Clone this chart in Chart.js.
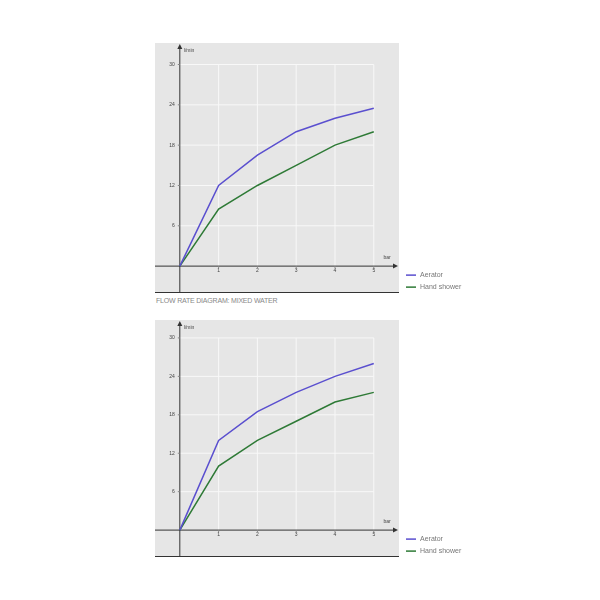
<!DOCTYPE html><html><head><script src="https://cdn.jsdelivr.net/npm/chart.js@4"></script>
<style>body{margin:0;background:#fff;font-family:"Liberation Sans",Arial,sans-serif}
.c{position:absolute;left:155px;width:330px}
#t{position:absolute;left:156px;top:297px;font-size:7px;color:#888;letter-spacing:-0.2px}</style></head><body>
<div class="c" style="top:43px;height:250px"><canvas id="a"></canvas></div>
<div id="t">FLOW RATE DIAGRAM: MIXED WATER</div>
<div class="c" style="top:320px;height:237px"><canvas id="b"></canvas></div>
<script>
const pressure=[0,1,2,3,4,5];
const xTicks=[1,2,3,4,5];
const yTicks=[6,12,18,24,30];
const seriesNames=["Aerator","Hand shower"];
const aerator1=[0,12,16.5,20,22,23.5];
const shower1=[0,8.5,12,15,18,20];
const aerator2=[0,14,18.5,21.5,24,26];
const shower2=[0,10,14,17,20,21.5];
const colors=["#5a4fcf","#2e7a36"];
const deco={id:'deco',
beforeDraw(c){const {ctx,chartArea:a,scales:{x,y}}=c;ctx.save();ctx.fillStyle='#e6e6e6';ctx.fillRect(a.left,a.top,a.width,a.height);
ctx.strokeStyle='#f8f8f8';ctx.lineWidth=1;
xTicks.forEach(v=>{const p=x.getPixelForValue(v);ctx.beginPath();ctx.moveTo(p,y.getPixelForValue(0));ctx.lineTo(p,y.getPixelForValue(30));ctx.stroke();});
yTicks.forEach(v=>{const p=y.getPixelForValue(v);ctx.beginPath();ctx.moveTo(x.getPixelForValue(0),p);ctx.lineTo(x.getPixelForValue(5),p);ctx.stroke();});
const ox=x.getPixelForValue(0),oy=y.getPixelForValue(0);ctx.strokeStyle='#333';ctx.fillStyle='#333';
ctx.beginPath();ctx.moveTo(a.left,oy);ctx.lineTo(a.right-4,oy);ctx.moveTo(ox,a.bottom);ctx.lineTo(ox,a.top+4);ctx.moveTo(a.left,a.bottom-0.5);ctx.lineTo(a.right,a.bottom-0.5);ctx.stroke();
ctx.beginPath();ctx.moveTo(a.right-1,oy);ctx.lineTo(a.right-6,oy-2.5);ctx.lineTo(a.right-6,oy+2.5);ctx.fill();
ctx.beginPath();ctx.moveTo(ox,a.top+1);ctx.lineTo(ox-2.5,a.top+6);ctx.lineTo(ox+2.5,a.top+6);ctx.fill();
ctx.font='5px "Liberation Sans"';ctx.fillStyle='#444';ctx.textBaseline='middle';ctx.textAlign='left';
ctx.fillText('l/min',ox+4,a.top+8);ctx.fillText('bar',x.getPixelForValue(5.25),oy-8);
ctx.textAlign='right';yTicks.forEach(v=>ctx.fillText(String(v),ox-5,y.getPixelForValue(v)));
ctx.textAlign='center';xTicks.forEach(v=>ctx.fillText(String(v),x.getPixelForValue(v),oy+5));
ctx.strokeStyle='#888';
yTicks.forEach(v=>{const p=y.getPixelForValue(v);ctx.beginPath();ctx.moveTo(ox-2,p);ctx.lineTo(ox,p);ctx.stroke();});
xTicks.forEach(v=>{const p=x.getPixelForValue(v);ctx.beginPath();ctx.moveTo(p,oy);ctx.lineTo(p,oy+2);ctx.stroke();});
ctx.restore();},
afterDraw(c){const {ctx,chartArea:a,scales:{y}}=c;ctx.save();const oy=y.getPixelForValue(0);ctx.font='7px "Liberation Sans"';ctx.textBaseline='middle';
c.data.datasets.forEach((d,i)=>{const yy=oy+9+i*12;ctx.strokeStyle=d.borderColor;ctx.lineWidth=1.5;ctx.beginPath();ctx.moveTo(a.right+7,yy);ctx.lineTo(a.right+17,yy);ctx.stroke();ctx.fillStyle='#777';ctx.fillText(d.label,a.right+21,yy);});ctx.restore();}};
function make(id,d1,d2,ymax,ymin){new Chart(document.getElementById(id),{type:'line',
data:{labels:pressure,datasets:[{label:seriesNames[0],data:pressure.map((p,i)=>({x:p,y:d1[i]})),borderColor:colors[0]},{label:seriesNames[1],data:pressure.map((p,i)=>({x:p,y:d2[i]})),borderColor:colors[1]}]},
options:{animation:false,responsive:true,maintainAspectRatio:false,layout:{padding:{right:86,top:0,bottom:0,left:0}},
elements:{point:{radius:0},line:{borderWidth:1.5,tension:0}},
plugins:{legend:{display:false},tooltip:{enabled:false}},
scales:{x:{type:'linear',display:false,min:-0.64,max:5.65},
y:{type:'linear',display:false,min:ymin,max:ymax}}},
plugins:[deco]});}
make('a',aerator1,shower1,33.2,-4);
make('b',aerator2,shower2,32.8,-4.2);
</script></body></html>
